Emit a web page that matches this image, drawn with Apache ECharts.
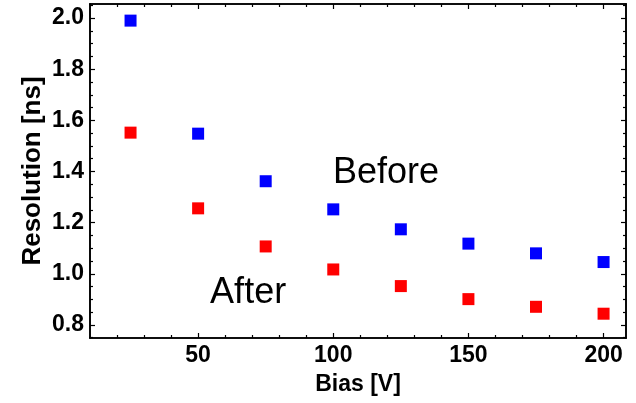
<!DOCTYPE html>
<html><head><meta charset="utf-8">
<script src="https://cdn.jsdelivr.net/npm/echarts@6/dist/echarts.min.js"></script>
<style>html,body{margin:0;padding:0;background:#fff}#c{width:636px;height:403px}</style>
</head><body><div id="c"></div>
<script>
var bias = [25, 50, 75, 100, 125, 150, 175, 200];
var before = [1.99, 1.548, 1.362, 1.252, 1.174, 1.118, 1.080, 1.046];
var after = [1.552, 1.256, 1.107, 1.017, 0.952, 0.901, 0.871, 0.844];
var xMajor = [50, 100, 150, 200];
var xMinor = [20, 30, 40, 60, 70, 80, 90, 110, 120, 130, 140, 160, 170, 180, 190];
var yMajor = [0.8, 1.0, 1.2, 1.4, 1.6, 1.8, 2.0];
var yMinor = [0.75, 0.85, 0.9, 0.95, 1.05, 1.1, 1.15, 1.25, 1.3, 1.35, 1.45, 1.5, 1.55, 1.65, 1.7, 1.75, 1.85, 1.9, 1.95, 2.05];
var annotations = [{name: 'Before', x: 119.5, y: 1.395}, {name: 'After', x: 68.5, y: 0.925}];

var F = 'Liberation Sans, Arial, sans-serif';
var XMIN = 10, XMAX = 208.3, YMIN = 0.749, YMAX = 2.055;
function pair(v){ return v.map(function(b,i){ return [bias[i], v[i]]; }); }
function ax(type, pos, vals, len, labels, extra){
  var o = {type:'value', min: type==='x'?XMIN:YMIN, max: type==='x'?XMAX:YMAX, position: pos,
    axisLine:{show:true, onZero:false, lineStyle:{color:'#000', width:1.6}},
    axisTick:{show:true, inside:true, length:len, customValues: vals, lineStyle:{color:'#000', width:1.2}},
    axisLabel:{show:false}, splitLine:{show:false}};
  if (labels) {
    o.axisLabel = {show:true, customValues: vals, color:'#000', fontFamily:F, fontWeight:'bold', fontSize:23,
      margin: 6, formatter: function(v){ return type==='x'? String(Math.round(v)) : v.toFixed(1); }};
  }
  if (extra) for (var k in extra) o[k]=extra[k];
  return o;
}
var chart = echarts.init(document.getElementById('c'));
chart.setOption({
  backgroundColor:'#fff',
  animation:false,
  grid:{left:90, right:10, top:4, bottom:65},
  xAxis:[
    ax('x','bottom',xMajor,5,true,{name:'Bias [V]', nameLocation:'middle', nameGap:35, nameMoveOverlap:false,
      nameTextStyle:{color:'#000', fontFamily:F, fontWeight:'bold', fontSize:23}}),
    ax('x','bottom',xMinor,3,false),
    ax('x','top',xMajor,5,false),
    ax('x','top',xMinor,3,false)
  ],
  yAxis:[
    ax('y','left',yMajor,5,true,{name:'Resolution [ns]', nameLocation:'middle', nameGap:44, nameMoveOverlap:false,
      nameTextStyle:{color:'#000', fontFamily:F, fontWeight:'bold', fontSize:26}}),
    ax('y','left',yMinor,3,false),
    ax('y','right',yMajor,5,false),
    ax('y','right',yMinor,3,false)
  ],
  series:[
    {type:'scatter', name:'Before', data:pair(before), symbol:'rect', symbolSize:12, itemStyle:{color:'#0000ff', opacity:1}},
    {type:'scatter', name:'After', data:pair(after), symbol:'rect', symbolSize:12, itemStyle:{color:'#ff0000', opacity:1}},
    {type:'scatter', data: annotations.map(function(a){ return {value:[a.x,a.y], label:{formatter:a.name}}; }),
      symbolSize:0, silent:true, itemStyle:{opacity:1},
      label:{show:true, position:'inside', color:'#000', fontFamily:F, fontSize:36}}
  ]
});
</script></body></html>
